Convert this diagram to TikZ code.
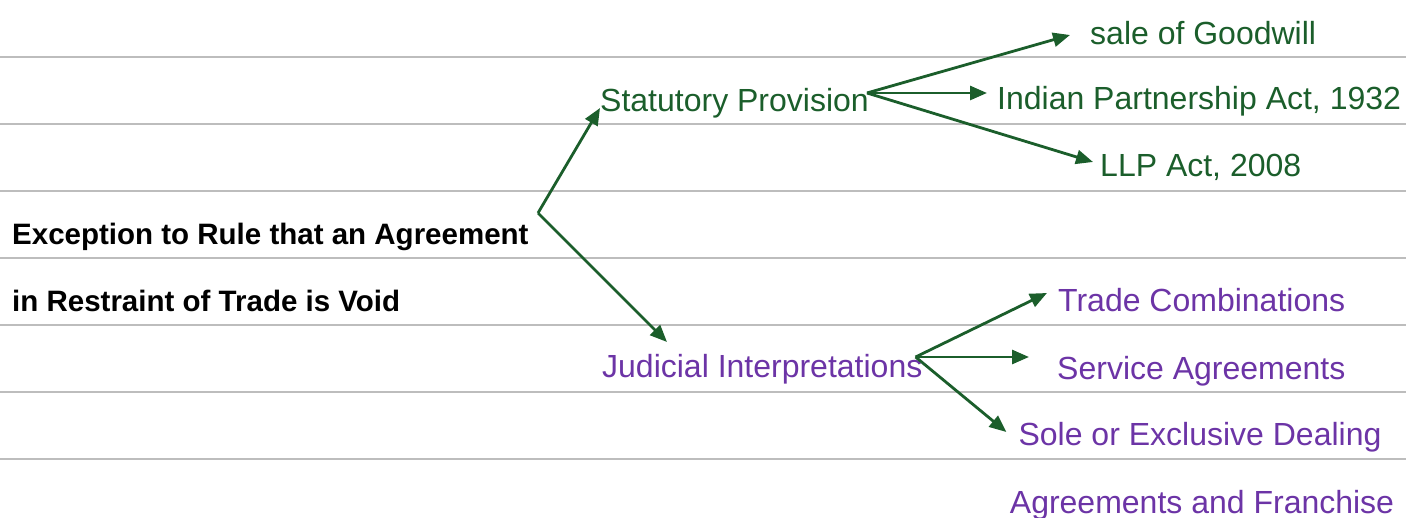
\documentclass[tikz,border=0pt]{standalone}
\usepackage{fontspec}
\setmainfont{Liberation Sans}
\usetikzlibrary{arrows.meta}

\definecolor{rulegray}{HTML}{BDBDBD}
\definecolor{leafgreen}{HTML}{1B5E2B}
\definecolor{leafpurple}{HTML}{6C34A6}

\tikzset{
  ruling/.style={draw=rulegray, line width=2pt},
  headtext/.style={font=\bfseries\fontsize{29.5}{35}\selectfont, inner sep=0pt, text=black},
  greentext/.style={font=\fontsize{32}{38}\selectfont, inner sep=0pt, text=leafgreen},
  purpletext/.style={font=\fontsize{32}{38}\selectfont, inner sep=0pt, text=leafpurple},
  branch/.style={draw=leafgreen, line width=2.8pt, -{Triangle[length=17pt,width=14pt]}},
}

\begin{document}
\begin{tikzpicture}[x=1pt,y=-1pt]
  \useasboundingbox (0,0) rectangle (1406,518);

  % ruled notebook lines
  \foreach \ry in {57,124,191,258,325,392,459}
    \draw[ruling] (0,\ry) -- (1406,\ry);

  % root heading
  \node[headtext, anchor=base west] (head1) at (12,245) {Exception to Rule that an Agreement};
  \node[headtext, anchor=base west] (head2) at (12,312) {in Restraint of Trade is Void};
  \coordinate (rootfork) at (538,213);

  % first-level categories
  \node[greentext, anchor=base west] (stat) at (600,112) {Statutory Provision};
  \node[purpletext, anchor=base west] (jud) at (602,378) {Judicial Interpretations};

  % statutory provisions
  \node[greentext, anchor=base west] (goodwill) at (1090,45) {sale of Goodwill};
  \node[greentext, anchor=base west] (ipa) at (997,110) {Indian Partnership Act, 1932};
  \node[greentext, anchor=base west] (llp) at (1100,177) {LLP Act, 2008};

  % judicial interpretations
  \node[purpletext, anchor=base west] (trade) at (1058,312) {Trade Combinations};
  \node[purpletext, anchor=base west] (service) at (1057,380) {Service Agreements};
  \node[purpletext, anchor=base] (sole) at (1200,446) {Sole or Exclusive Dealing};
  \node[purpletext, anchor=base] (franchise) at (1202,513) {Agreements and Franchise};

  % fork points
  \coordinate (statfork) at ([shift={(-2,-19)}]stat.base east);
  \coordinate (judfork) at ([shift={(-7,-21)}]jud.base east);

  % connectors
  \draw[branch] (rootfork) -- ([shift={(0,-4)}]stat.base west);
  \draw[branch] (rootfork) -- ([shift={(65,-36)}]jud.base west);

  \draw[branch] (statfork) -- ([shift={(-20,-10)}]goodwill.base west);
  \draw[branch] (statfork) -- ([xshift=-10pt]ipa.base west |- statfork);
  \draw[branch] (statfork) -- ([shift={(-7,-15)}]llp.base west);

  \draw[branch] (judfork) -- ([shift={(-11,-19)}]trade.base west);
  \draw[branch] (judfork) -- ([xshift=-28pt]service.base west |- judfork);
  \draw[branch] (judfork) -- ([shift={(-12,-14)}]sole.base west);
\end{tikzpicture}
\end{document}
